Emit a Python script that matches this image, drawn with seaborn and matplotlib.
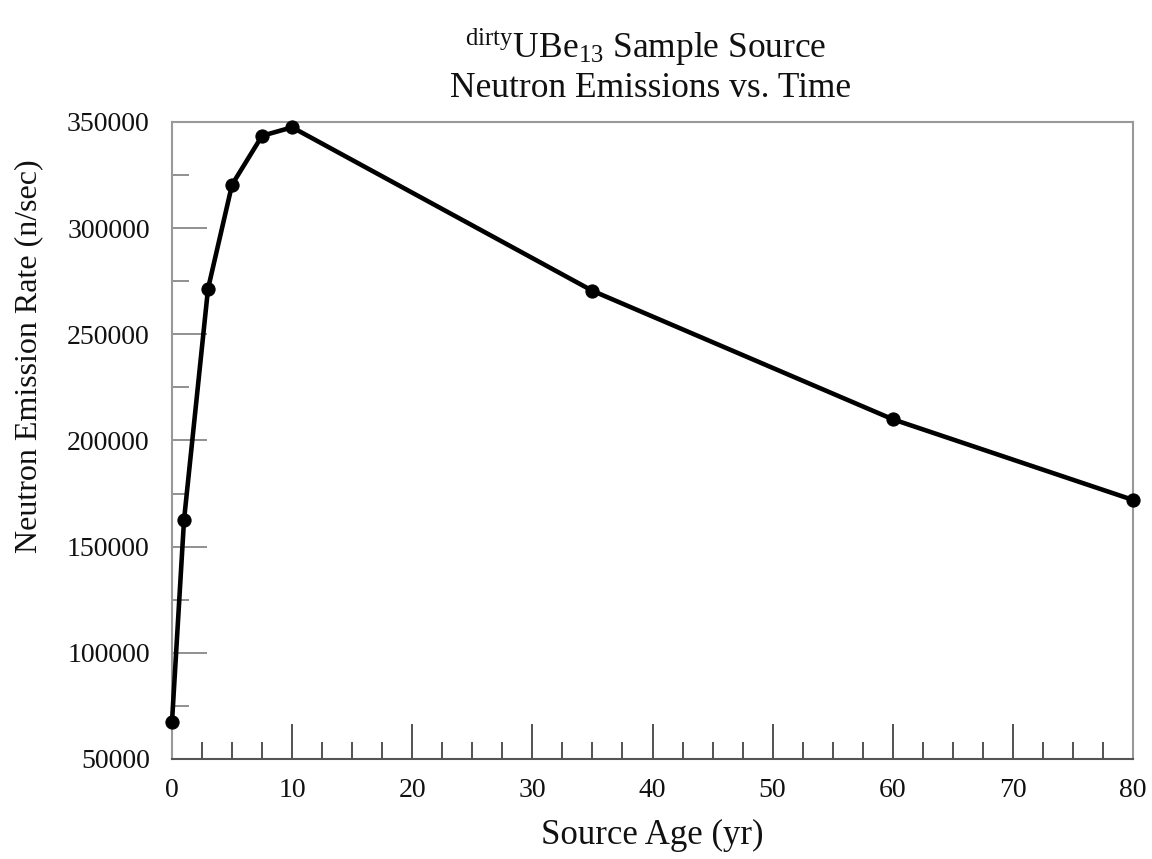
import matplotlib
matplotlib.use("Agg")
import matplotlib.pyplot as plt
import seaborn as sns
import pandas as pd
from matplotlib.ticker import MultipleLocator

age_yr = [0, 1, 3, 5, 7.5, 10, 35, 60, 80]
emission_rate = [67500, 162500, 271500, 320500, 343500, 347500, 270500, 210000, 172000]

sns.set_theme(style="white")
plt.rcParams['font.family'] = ['Liberation Serif', 'DejaVu Serif']
plt.rcParams['mathtext.fontset'] = 'custom'
plt.rcParams['mathtext.rm'] = 'Liberation Serif'
plt.rcParams['mathtext.it'] = 'Liberation Serif:italic'

df = pd.DataFrame({"age": age_yr, "rate": emission_rate})

W, H = 1152, 859
fig = plt.figure(figsize=(W / 100, H / 100), dpi=100)
ax = fig.add_axes([172 / W, 1 - 759 / H, (1133 - 172) / W, (759 - 122) / H])

sns.lineplot(data=df, x="age", y="rate", ax=ax, color="black", linewidth=3.3,
             marker="o", markersize=9.5, markeredgecolor="black",
             markerfacecolor="black", clip_on=False, zorder=5)

ax.set_xlim(0, 80)
ax.set_ylim(50000, 350000)
ax.xaxis.set_major_locator(MultipleLocator(10))
ax.xaxis.set_minor_locator(MultipleLocator(2.5))
ax.yaxis.set_major_locator(MultipleLocator(50000))
ax.yaxis.set_minor_locator(MultipleLocator(25000))
ax.tick_params(axis="both", which="major", direction="in", length=25, width=1.3,
               color="#888888", labelsize=20, labelcolor="#111111",
               bottom=True, left=True, top=False, right=False)
ax.tick_params(axis="both", which="minor", direction="in", length=12, width=1.3,
               color="#888888", bottom=True, left=True, top=False, right=False)
ax.tick_params(axis="x", which="both", color="#444444")
ax.tick_params(axis="x", which="major", pad=14)
ax.tick_params(axis="y", which="major", pad=16)

for side in ["left", "top", "right"]:
    ax.spines[side].set_color("#999999")
    ax.spines[side].set_linewidth(1.5)
ax.spines["bottom"].set_color("#555555")
ax.spines["bottom"].set_linewidth(1.5)

ax.set_xlabel("Source Age (yr)", fontsize=25, color="#111111")
ax.set_ylabel("Neutron Emission Rate (n/sec)", fontsize=23, color="#111111")
ax.xaxis.label.set_va("center")
ax.yaxis.label.set_va("center")
ax.xaxis.set_label_coords(0.5, (759 - 835) / 637)
ax.yaxis.set_label_coords((29 - 172) / 961, (759 - 356) / 637)

fig.text(646 / W, 1 - 58 / H, r"$^{\mathrm{dirty}}$UBe$_{13}$ Sample Source", ha="center",
         va="baseline", fontsize=25.5, color="#111111")
fig.text(651 / W, 1 - 97 / H, "Neutron Emissions vs. Time", ha="center",
         va="baseline", fontsize=25.5, color="#111111")

fig.savefig("out.png", dpi=100)
